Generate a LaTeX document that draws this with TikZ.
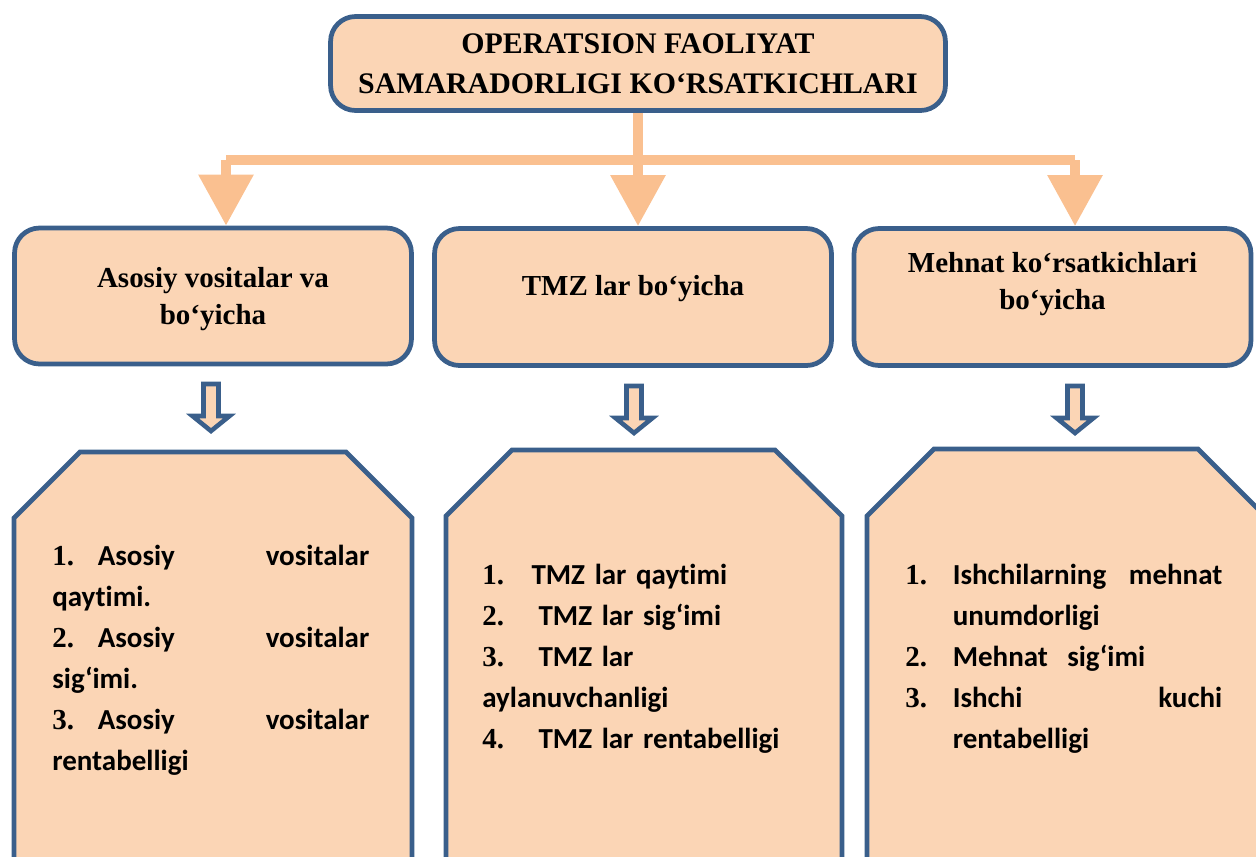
\documentclass[tikz,border=0pt]{standalone}
\usepackage{fontspec}
\setmainfont{Liberation Serif}
\newfontfamily\calibri{Carlito}[BoldFont={Carlito Bold}, Ligatures=NoCommon]
\newfontfamily\serifno{Liberation Serif}[BoldFont={Liberation Serif Bold}]
\usetikzlibrary{arrows.meta}
\definecolor{boxfill}{HTML}{FBD5B5}
\definecolor{boxline}{HTML}{3A5F8B}
\definecolor{feedline}{HTML}{FAC090}
\newcommand{\itemno}[2][0pt]{\makebox[#1][l]{\serifno\bfseries #2}}
\begin{document}
\begin{tikzpicture}[x=0.02cm, y=-0.02cm,
    headbox/.style={draw=boxline, fill=boxfill, line width=2.7pt, rounded corners=0.5cm,
        align=center, font=\fontsize{16.5}{21}\selectfont\bfseries, inner sep=0pt},
    listbox/.style={draw=boxline, fill=boxfill, line width=2.7pt},
    listtext/.style={anchor=north west, inner sep=0pt, align=left,
        font=\calibri\bfseries\fontsize{16.5}{23.3}\selectfont},
    feed/.style={draw=feedline, line width=5.7pt, -{Triangle[width=30pt,length=29pt]}},
    hollow/.style={draw=boxline, fill=boxfill, line width=2.6pt}]
\useasboundingbox (0,0) rectangle (1256,856);
\clip (0,0) rectangle (1256,856);

% title and the three groups
\node[headbox, minimum width=12.3cm, minimum height=1.88cm, font=\fontsize{17}{22.8}\selectfont\bfseries]
    (title) at (638,63.5) {OPERATSION FAOLIYAT\\SAMARADORLIGI KO‘RSATKICHLARI};
\node[headbox, minimum width=7.94cm, minimum height=2.72cm, text depth=0pt]
    (asosiy) at (213,296) {Asosiy vositalar va\\bo‘yicha};
\node[headbox, minimum width=7.94cm, minimum height=2.74cm, text depth=0.45cm]
    (tmz) at (633,297) {TMZ lar bo‘yicha};
\node[headbox, minimum width=7.94cm, minimum height=2.74cm, text depth=0.65cm]
    (mehnat) at (1052.5,297) {Mehnat ko‘rsatkichlari\\bo‘yicha};

% feeding arrows
\coordinate (fork) at (638,160);
\coordinate (leftend) at (226,160);
\coordinate (rightend) at (1075,160);
\draw[feed] (title.south -| fork) -- (tmz.north -| fork);
\draw[feed, -] (leftend) -- (rightend);
\draw[feed] (leftend) -- (asosiy.north -| leftend);
\draw[feed] (rightend) -- (mehnat.north -| rightend);

% hollow arrows
\foreach \ax/\ay in {211/384, 634/386, 1075/386}
  \draw[hollow] (\ax-7.5,\ay) -- (\ax+7.5,\ay) -- (\ax+7.5,\ay+32) -- (\ax+18.5,\ay+32)
      -- (\ax,\ay+47) -- (\ax-18.5,\ay+32) -- (\ax-7.5,\ay+32) -- cycle;

% lists
\draw[listbox] (14,880) -- (14,518) -- (80,452) -- (346,452) -- (412,518) -- (412,880);
\draw[listbox] (446,880) -- (446,516) -- (512,450) -- (775,450) -- (842,516) -- (842,880);
\draw[listbox] (867,880) -- (867,516) -- (934,449) -- (1198,449) -- (1265,516) -- (1265,880);

\node[listtext, text width=6.34cm] (asosiylist) at (52,545) {%
    \itemno{1.}\hfill Asosiy\hfill\hfill vositalar\\
    qaytimi.\\
    \itemno{2.}\hfill Asosiy\hfill\hfill vositalar\\
    sig‘imi.\\
    \itemno{3.}\hfill Asosiy\hfill\hfill vositalar\\
    rentabelligi};
\node[listtext, text width=6.8cm] (tmzlist) at (482,564) {%
    \itemno[28pt]{1.}TMZ lar qaytimi\\
    \itemno[32pt]{2.}TMZ lar sig‘imi\\
    \itemno[32pt]{3.}TMZ lar\\
    aylanuvchanligi\\
    \itemno[32pt]{4.}TMZ lar rentabelligi};
\node[listtext, text width=6.34cm] (mehnatlist) at (905,564) {%
    \itemno[27pt]{1.}Ishchilarning\hfill mehnat\\
    \hspace*{27pt}unumdorligi\\
    \itemno[27pt]{2.}Mehnat\ \ sig‘imi\\
    \itemno[27pt]{3.}Ishchi\hfill kuchi\\
    \hspace*{27pt}rentabelligi};
\end{tikzpicture}
\end{document}
